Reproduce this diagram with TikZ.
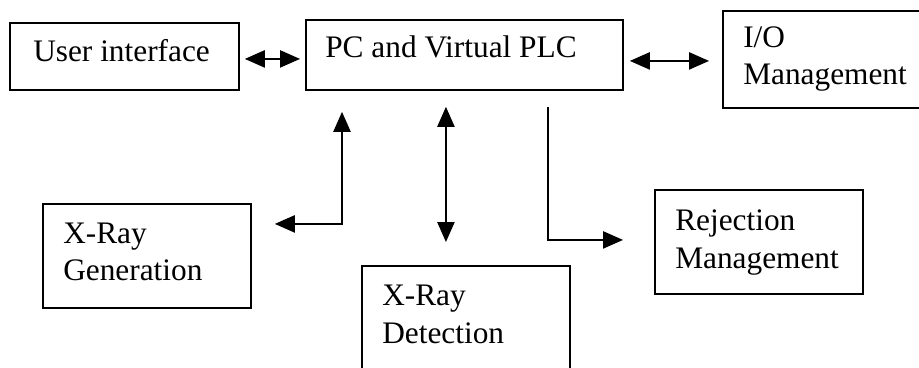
\documentclass[tikz,border=0pt]{standalone}
\usepackage{fontspec}
\setmainfont{Liberation Serif}
\usetikzlibrary{arrows.meta,calc}
\begin{document}
\begin{tikzpicture}[x=0.75pt,y=-0.75pt,
  box/.style={draw,line width=1.4pt,inner sep=0pt,anchor=north west},
  lbl/.style={anchor=base west,inner sep=0pt,font=\fontsize{23.5}{27}\selectfont},
  conn/.style={line width=1pt,-{Triangle[length=15pt,width=13pt]}},
  bconn/.style={line width=1pt,{Triangle[length=15pt,width=13pt]}-{Triangle[length=15pt,width=13pt]}}]
\useasboundingbox (0,0) rectangle (919,367);
\clip (0,0) rectangle (919,367);
% boxes
\node[box,minimum width=229*0.75pt,minimum height=67*0.75pt] (ui) at (9,22) {};
\node[box,minimum width=317*0.75pt,minimum height=70*0.75pt] (pc) at (305,19) {};
\node[box,minimum width=220*0.75pt,minimum height=97*0.75pt] (io) at (722,10) {};
\node[box,minimum width=208*0.75pt,minimum height=104*0.75pt] (xg) at (42,203) {};
\node[box,minimum width=208*0.75pt,minimum height=120*0.75pt] (xd) at (361,265) {};
\node[box,minimum width=208*0.75pt,minimum height=104*0.75pt] (rj) at (654,189) {};
% texts
\node[lbl] (tui) at (33,62) {User interface};
\node[lbl] (tpc) at (325,58) {PC and Virtual PLC};
\node[lbl] (tio1) at (743,48) {I/O};
\node[lbl] (tio2) at (743,85) {Management};
\node[lbl] (txg1) at (63,243) {X-Ray};
\node[lbl] (txg2) at (63,280) {Generation};
\node[lbl] (txd1) at (382,305) {X-Ray};
\node[lbl] (txd2) at (382,343) {Detection};
\node[lbl] (trj1) at (675,230) {Rejection};
\node[lbl] (trj2) at (675,268) {Management};
% connectors
\draw[bconn] ($(ui.east)+(5,2.5)$) -- ($(pc.west)+(-5,4)$);
\draw[bconn] ($(pc.east)+(6,6)$) -- ($(io.west)+(-13,1.5)$);
\draw[bconn] ($(pc.south)+(-18.5,16)$) -- ($(xd.north)+(-20,-23)$);
\draw[bconn] ($(pc.south west)+(37,21)$) |- ($(xg.east)+(23,-32)$);
\draw[conn] ($(pc.south east)+(-76,16)$) |- ($(rj.west)+(-31,-2)$);
\end{tikzpicture}
\end{document}
